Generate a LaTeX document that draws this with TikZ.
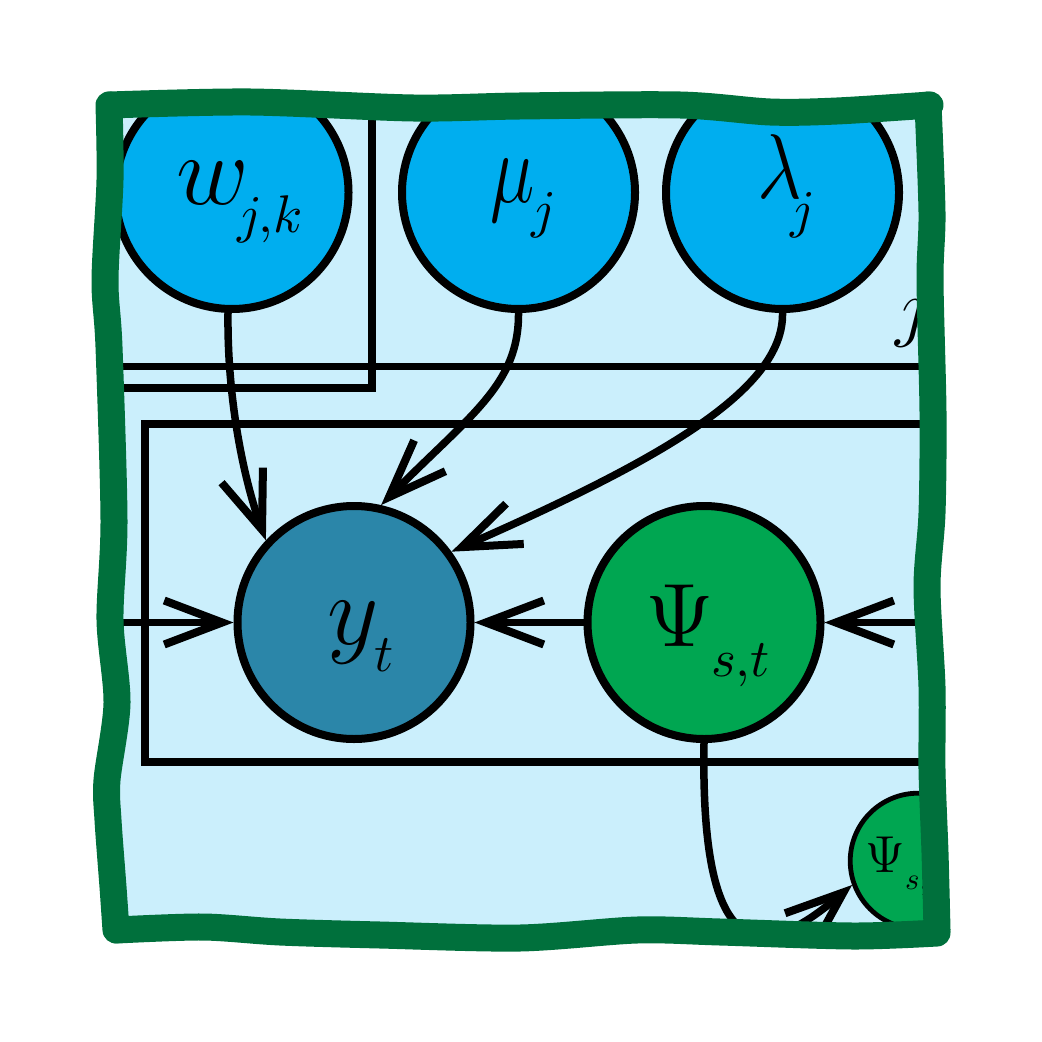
\documentclass[tikz,border=0pt]{standalone}
\usetikzlibrary{arrows.meta}
\definecolor{paper}{HTML}{CBEFFC}
\definecolor{skyblue}{HTML}{00AEEF}
\definecolor{tealblue}{HTML}{2B86A9}
\definecolor{leaf}{HTML}{00A651}
\definecolor{forest}{HTML}{00703C}
\font\bigmi=cmmi12 at 50pt
\font\lammi=cmmi12 at 46pt
\font\labelmi=cmmi12 at 38pt
\font\submi=cmmi10 at 26.5pt
\font\tinymi=cmmi10 at 15.4pt
\font\bigrm=cmr12 at 45pt
\font\tinyrm=cmr12 at 26pt
\newcommand{\borderpts}{(108,105)(250,102)(413,108)(520,106)(680,105)(770,112)(837,111)(930,105)
 (932,213)(930,280)(933,413)(932,513)(927,587)(932,687)(932,770)(935,853)(937,933)
 (853,936)(720,932)(637,930)(520,938)(380,935)(280,932)(203,927)(117,930)
 (113,887)(108,820)(107,780)(117,703)(110,620)(114,520)(109,347)(105,280)(110,180)}
\newcommand{\bigsym}[1]{{\textfont1=\bigmi\textfont0=\bigrm$#1$}}
\newcommand{\subsym}[1]{{\scriptfont1=\submi$\scriptstyle #1$}}
\AtBeginDocument{\sbox0{$ $}}
\tikzset{
 every picture/.style={x=0.5pt,y=-0.5pt},
 plate/.style={draw=black,line width=3.75pt},
 bignode/.style={circle,draw=black,line width=4pt,inner sep=0pt,minimum size=116.5pt},
 smallnode/.style={circle,draw=black,line width=2.4pt,inner sep=0pt,minimum size=67.8pt,fill=leaf},
 arr/.style={draw=black,line width=3.75pt,-{Straight Barb[length=29pt,width=22pt,line width=4pt]}},
 txt/.style={anchor=base west,inner sep=0pt,outer sep=0pt},
 wobble/.style={draw=forest,line width=13.5pt,line cap=round,line join=round}
}
\begin{document}
\begin{tikzpicture}
\useasboundingbox (0,0) rectangle (1042,1042);
\fill[paper] plot[smooth cycle,tension=0.5] coordinates {\borderpts};
\begin{scope}
\clip plot[smooth cycle,tension=0.5] coordinates {\borderpts};
\draw[plate] (40,-20) rectangle (1000,366.7);
\draw[plate] (40,-20) rectangle (372,388);
\draw[plate] (145,424) rectangle (1000,762);
\node[txt] (jlabel) at (895,333) {{\textfont1=\labelmi$j$}};
\node[bignode,fill=skyblue] (w) at (232,192.5) {};
\node[bignode,fill=skyblue] (mu) at (518.5,192.5) {};
\node[bignode,fill=skyblue] (lam) at (782.5,192.5) {};
\node[bignode,fill=tealblue] (y) at (354,622.5) {};
\node[bignode,fill=leaf] (psi) at (704,622.5) {};
\node[smallnode] (psismall) at (918,861) {};
\node[txt] (wt) at (176,205) {\bigsym{w}};
\node[txt] (wsub) at (237,233) {\subsym{j,k}};
\node[txt,xscale=0.75] (mt) at (490,203) {\bigsym{\mu}};
\node[txt] (msub) at (531,228) {\subsym{j}};
\node[txt,xscale=0.85] (lt) at (757,199) {{\textfont1=\lammi$\lambda$}};
\node[txt] (lsub) at (790,228) {\subsym{j}};
\node[txt] (yt) at (327,644) {\bigsym{y}};
\node[txt] (ysub) at (374,671) {\subsym{t}};
\node[txt] (pt) at (645,646) {\bigsym{\Psi}};
\node[txt] (psub) at (711,676) {\subsym{s,t}};
\node[txt] (pst) at (865,872) {{\textfont0=\tinyrm$\Psi$}};
\node[txt] (psst) at (905,889) {{\scriptfont1=\tinymi$\scriptstyle s,t$}};
\coordinate (leftin) at (100,622.5);
\coordinate (rightin) at (960,622.5);
\draw[arr] (w.south) ++(-4,0) .. controls (227,400) and (244,480) .. (y.137.8);
\draw[arr] (mu.south) .. controls (519,385) and (470,415) .. (y.77.5);
\draw[arr] (lam.south) .. controls (784,390) and (660,460) .. (y.36.2);
\draw[arr] (leftin) -- (y.west);
\draw[arr] (psi.west) -- (y.east);
\draw[arr] (rightin) -- (psi.east);
\draw[arr] (psi.south) .. controls (700,980) and (770,955) .. (psismall.200);
\end{scope}
\draw[wobble] plot[smooth,tension=0.5] coordinates {(110,105)(250,102)(413,108)(520,106)(680,105)(770,112)(837,111)(930,105)};
\draw[wobble] plot[smooth,tension=0.5] coordinates {(928,105)(932,213)(930,280)(933,413)(932,513)(927,587)(932,687)(932,770)(935,853)(937,930)};
\draw[wobble] plot[smooth,tension=0.5] coordinates {(937,933)(853,936)(720,932)(637,930)(520,938)(380,935)(280,932)(203,927)(117,930)};
\draw[wobble] plot[smooth,tension=0.5] coordinates {(116,930)(113,887)(108,820)(107,780)(117,703)(110,620)(114,520)(109,347)(105,280)(110,180)(109,105)};
\end{tikzpicture}
\end{document}
